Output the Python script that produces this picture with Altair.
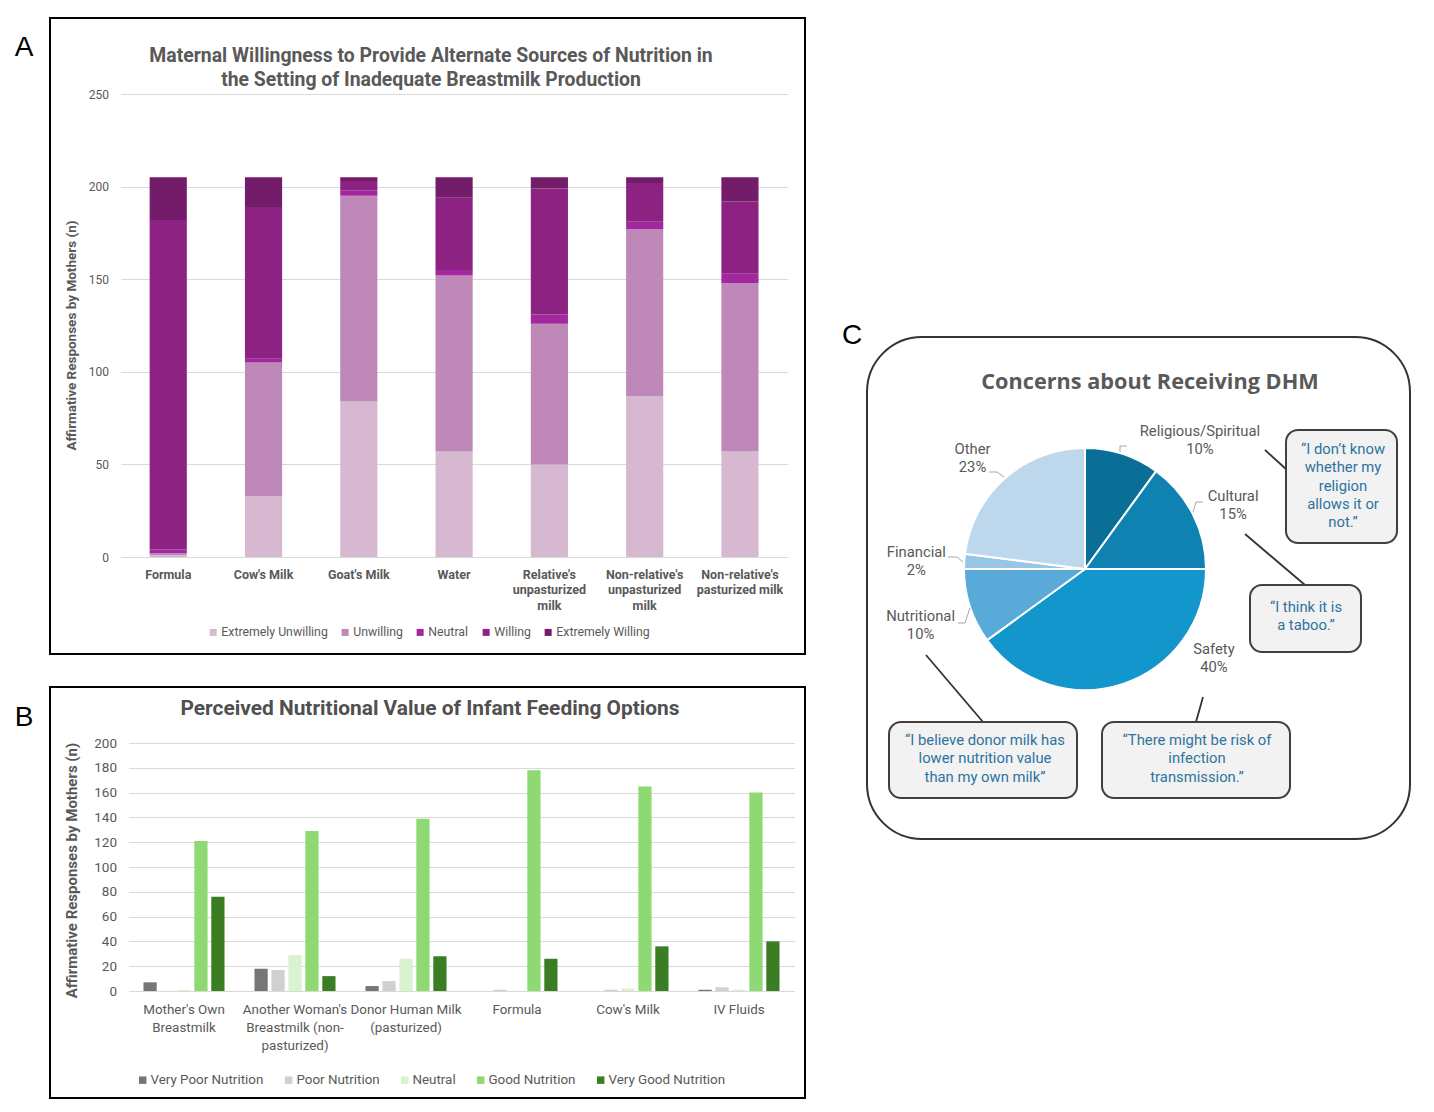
import altair as alt
import pandas as pd

# ---------------- Panel A data ----------------
a_options = ["Formula", "Cow's Milk", "Goat's Milk", "Water",
             "Relative's\nunpasturized\nmilk", "Non-relative's\nunpasturized\nmilk",
             "Non-relative's\npasturized milk"]
a_levels = ["Extremely Unwilling", "Unwilling", "Neutral", "Willing", "Extremely Willing"]
a_ext_unwilling = [1, 33, 84, 57, 50, 87, 57]
a_unwilling = [1, 72, 111, 95, 76, 90, 91]
a_neutral = [2, 2, 3, 3, 5, 4, 5]
a_willing = [178, 82, 5, 39, 68, 21, 39]
a_ext_willing = [23, 16, 2, 11, 6, 3, 13]
a_colors = ["#d6b9d1", "#be89b9", "#a3279e", "#8c2383", "#731c69"]
a_ticks = [0, 50, 100, 150, 200, 250]

# ---------------- Panel B data ----------------
b_options = ["Mother's Own\nBreastmilk", "Another Woman's\nBreastmilk (non-\npasturized)",
             "Donor Human Milk\n(pasturized)", "Formula", "Cow's Milk", "IV Fluids"]
b_levels = ["Very Poor Nutrition", "Poor Nutrition", "Neutral", "Good Nutrition", "Very Good Nutrition"]
b_very_poor = [7, 18, 4, 0, 0, 1]
b_poor = [0, 17, 8, 1, 1, 3]
b_neutral = [1, 29, 26, 0, 2, 1]
b_good = [121, 129, 139, 178, 165, 160]
b_very_good = [76, 12, 28, 26, 36, 40]
b_colors = ["#767676", "#d0d0d0", "#d9f2d0", "#8ed973", "#3a7d22"]
b_ticks = [0, 20, 40, 60, 80, 100, 120, 140, 160, 180, 200]

# ---------------- Panel C data ----------------
c_cats = ["Religious/Spiritual", "Cultural", "Safety", "Nutritional", "Financial", "Other"]
c_pct = [10, 15, 40, 10, 2, 23]
c_colors = ["#0b6e96", "#0f82b2", "#1396cb", "#5aaad9", "#9ac6e6", "#bdd7ec"]

W, H = 1418, 1096
FONT = "Roboto"
GREY = "#595959"

# ---------- build tables ----------
a_series = [a_ext_unwilling, a_unwilling, a_neutral, a_willing, a_ext_willing]
rowsA = []
for li, (lev, vals) in enumerate(zip(a_levels, a_series)):
    for opt, v in zip(a_options, vals):
        rowsA.append({"option": opt, "response": lev, "n": v, "ord": li})
dfA = pd.DataFrame(rowsA)

b_series = [b_very_poor, b_poor, b_neutral, b_good, b_very_good]
rowsB = []
for lev, vals in zip(b_levels, b_series):
    for opt, v in zip(b_options, vals):
        rowsB.append({"option": opt, "level": lev, "n": v})
dfB = pd.DataFrame(rowsB)

dfC = pd.DataFrame({"cat": c_cats, "pct": c_pct})

one = alt.Data(values=[{}])

# ---------- Panel A ----------
A_X0, A_X1, A_Y0, A_Y1 = 112.6, 779.6, 549, 86
barsA = alt.Chart(dfA).mark_bar().encode(
    x=alt.X("option:N", sort=a_options,
            scale=alt.Scale(domain=a_options, range=[A_X0, A_X1], paddingInner=0.61, paddingOuter=0.305),
            axis=alt.Axis(orient="bottom", offset=A_Y0 - H, title=None, labelAngle=0,
                          labelExpr="split(datum.label, '\\n')", labelFont=FONT, labelFontWeight="bold",
                          labelFontSize=12.5, labelColor=GREY, labelLineHeight=15.5, labelPadding=11,
                          labelBaseline="top", domain=False, ticks=False, grid=False)),
    y=alt.Y("n:Q", stack="zero",
            scale=alt.Scale(domain=[0, 250], range=[A_Y0, A_Y1], nice=False),
            axis=alt.Axis(orient="left", offset=-A_X0, values=a_ticks, title="Affirmative Responses by Mothers (n)",
                          titleFont=FONT, titleFontWeight="bold", titleFontSize=13.5, titleColor=GREY,
                          titleX=63 - A_X0, titleY=327, titleAngle=-90, titleBaseline="middle", titleAlign="center",
                          labelFont=FONT, labelFontSize=12, labelColor=GREY, labelPadding=12,
                          grid=True, gridColor="#d9d9d9", domain=False, ticks=False)),
    color=alt.Color("response:N", scale=alt.Scale(domain=a_levels, range=a_colors),
                    legend=alt.Legend(orient="none", legendX=199, legendY=618, direction="horizontal",
                                      title=None, symbolType="square", symbolSize=49, symbolStrokeWidth=0,
                                      labelFont=FONT, labelFontSize=12.3, labelColor=GREY,
                                      columnPadding=11, labelOffset=2, padding=0)),
    order=alt.Order("ord:Q", sort="ascending"),
)

titleA = alt.Chart(one).mark_text(
    text="Maternal Willingness to Provide Alternate Sources of Nutrition in\nthe Setting of Inadequate Breastmilk Production",
    lineBreak="\n", lineHeight=24, font=FONT, fontWeight="bold", fontSize=19.4, color=GREY,
    align="center", baseline="middle",
).encode(x=alt.value(423), y=alt.value(48))

# ---------- Panel B ----------
B_X0, B_X1, B_Y0, B_Y1 = 120.5, 786.5, 983, 735
barsB = alt.Chart(dfB).mark_bar().encode(
    x=alt.X("option:N", sort=b_options,
            scale=alt.Scale(domain=b_options, range=[B_X0, B_X1], paddingInner=0.27, paddingOuter=0.135),
            axis=alt.Axis(orient="bottom", offset=B_Y0 - H, title=None, labelAngle=0,
                          labelExpr="split(datum.label, '\\n')", labelFont=FONT,
                          labelFontSize=13.4, labelColor=GREY, labelLineHeight=18, labelPadding=11,
                          labelBaseline="top", domain=False, ticks=False, grid=False)),
    xOffset=alt.XOffset("level:N", sort=b_levels,
                        scale=alt.Scale(domain=b_levels, paddingInner=0.22, paddingOuter=0)),
    y=alt.Y("n:Q", scale=alt.Scale(domain=[0, 200], range=[B_Y0, B_Y1], nice=False),
            axis=alt.Axis(orient="left", offset=-B_X0, values=b_ticks, title="Affirmative Responses by Mothers (n)",
                          titleFont=FONT, titleFontWeight="bold", titleFontSize=15, titleColor=GREY,
                          titleX=63 - B_X0, titleY=862, titleAngle=-90, titleBaseline="middle", titleAlign="center",
                          labelFont=FONT, labelFontSize=13.5, labelColor=GREY, labelPadding=12,
                          grid=True, gridColor="#d9d9d9", domain=False, ticks=False)),
    color=alt.Color("level:N", scale=alt.Scale(domain=b_levels, range=b_colors),
                    legend=alt.Legend(orient="none", legendX=128, legendY=1065, direction="horizontal",
                                      title=None, symbolType="square", symbolSize=56, symbolStrokeWidth=0,
                                      labelFont=FONT, labelFontSize=13.4, labelColor=GREY,
                                      columnPadding=18, labelOffset=1, padding=0)),
)

titleB = alt.Chart(one).mark_text(
    text="Perceived Nutritional Value of Infant Feeding Options",
    font=FONT, fontWeight="bold", fontSize=20.9, color="#505050", align="center", baseline="middle",
).encode(x=alt.value(422), y=alt.value(701))

# ---------- Panel C ----------
CX, CY, R = 1077, 561, 121
pie = alt.Chart(dfC).transform_window(idx="row_number()").mark_arc(
    outerRadius=R, stroke="white", strokeWidth=2
).encode(
    theta=alt.Theta("pct:Q", stack=True),
    order=alt.Order("idx:Q", sort="ascending"),
    color=alt.Color("cat:N", scale=alt.Scale(domain=c_cats, range=c_colors), legend=None),
    x=alt.value(CX), y=alt.value(CY),
)

label_shift = {"Religious/Spiritual": (67, 10), "Cultural": (10, -2), "Safety": (81, -66),
               "Nutritional": (-17, 0), "Financial": (-14, -6), "Other": (-10, -3)}
pie_labels = []
for name, (ddx, ddy) in label_shift.items():
    pie_labels.append(
        alt.Chart(dfC).transform_window(idx="row_number()")
        .transform_calculate(label="datum.cat + '\\n' + datum.pct + '%'")
        .mark_text(radius=155, dx=ddx, dy=ddy, lineBreak="\n", lineHeight=18, font=FONT, fontSize=14.8,
                   color=GREY, align="center", baseline="middle")
        .encode(
            theta=alt.Theta("pct:Q", stack=True),
            order=alt.Order("idx:Q", sort="ascending"),
            text=alt.condition(alt.datum.cat == name, alt.Text("label:N"), alt.value("")),
            x=alt.value(CX), y=alt.value(CY),
        )
    )

titleC = alt.Chart(one).mark_text(
    text="Concerns about Receiving DHM", font="Open Sans", fontWeight="bold", fontSize=21.7,
    color=GREY, align="center", baseline="middle",
).encode(x=alt.value(1142), y=alt.value(374))

# ---------- frames, callouts, letters ----------
def frame(x0, x1, y0, y1, radius=0, width=2, color="black", fill="white", fill_opacity=0.0):
    return alt.Chart(one).mark_rect(stroke=color, strokeWidth=width, fill=fill, fillOpacity=fill_opacity,
                                    cornerRadius=radius).encode(
        x=alt.value(x0), x2=alt.value(x1), y=alt.value(y0), y2=alt.value(y1))

def line(x0, y0, x1, y1, color="#333333", width=1.8):
    return alt.Chart(one).mark_rule(color=color, strokeWidth=width).encode(
        x=alt.value(x0), y=alt.value(y0), x2=alt.value(x1), y2=alt.value(y1))

def quote(txt, x, y):
    return alt.Chart(one).mark_text(text=txt, lineBreak="\n", lineHeight=18.3, font=FONT, fontSize=14.8,
                                    color="#2e72a0", align="center", baseline="middle").encode(
        x=alt.value(x), y=alt.value(y))

def letter(t, x, y):
    return alt.Chart(one).mark_text(text=t, font="Liberation Sans", fontSize=28, color="black",
                                    align="center", baseline="middle").encode(x=alt.value(x), y=alt.value(y))

frames = [
    frame(42, 797, 10, 646),
    frame(42, 797, 679, 1090),
    frame(859, 1402, 329, 831, radius=55, color="#333333"),
]

# small leader lines next to pie labels
LG = "#a6a6a6"
leaders = [
    line(1112, 444, 1112, 438, LG, 1), line(1112, 438, 1119, 438, LG, 1),
    line(1185, 504, 1188, 494, LG, 1), line(1188, 494, 1195, 494, LG, 1),
    line(981, 464, 989, 464, LG, 1), line(989, 464, 996, 469, LG, 1),
    line(940, 549, 949, 549, LG, 1), line(949, 549, 955, 554, LG, 1),
    line(950, 615, 957, 615, LG, 1), line(957, 615, 962, 600, LG, 1),
]

callouts = [
    line(1257, 442, 1279, 462),
    line(1237, 526, 1297, 577),
    line(918, 647, 975, 714),
    line(1195, 689, 1188, 714),
    frame(1278, 1389, 422, 535, radius=12, color="#404040", fill="#f2f2f2", fill_opacity=1),
    frame(1242, 1353, 577, 644, radius=12, color="#404040", fill="#f2f2f2", fill_opacity=1),
    frame(881, 1069, 714, 790, radius=12, color="#404040", fill="#f2f2f2", fill_opacity=1),
    frame(1094, 1282, 714, 790, radius=12, color="#404040", fill="#f2f2f2", fill_opacity=1),
    quote("\u201cI don\u2019t know\nwhether my\nreligion\nallows it or\nnot.\u201d", 1335, 442),
    quote("\u201cI think it is\na taboo.\u201d", 1298, 600),
    quote("\u201cI believe donor milk has\nlower nutrition value\nthan my own milk\u201d", 977, 733),
    quote("\u201cThere might be risk of\ninfection\ntransmission.\u201d", 1189, 733),
]
letters = [letter("A", 16, 40), letter("B", 16, 710), letter("C", 844, 328)]

chart = alt.layer(
    *frames, barsA, titleA, barsB, titleB, pie, *pie_labels, titleC, *leaders, *callouts, *letters
).resolve_scale(
    x="independent", y="independent", color="independent", theta="independent"
).resolve_axis(x="independent", y="independent").properties(
    width=W, height=H, padding=0, autosize=alt.AutoSizeParams(type="none"), background="white"
).configure_view(stroke="transparent")

chart.save("out.html", embed_options={"renderer": "svg", "actions": False})
